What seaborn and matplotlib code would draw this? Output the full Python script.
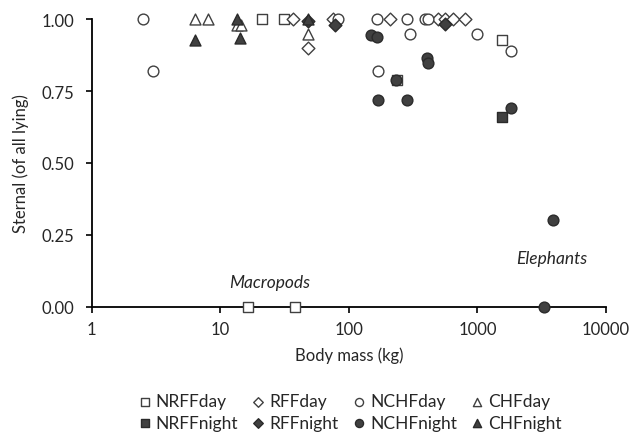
import matplotlib
matplotlib.use("Agg")
import matplotlib.pyplot as plt
import seaborn as sns
import pandas as pd

# ---- data (body mass kg, proportion sternal of all lying) ----
nrff_day_mass = [21, 31.6, 236, 1549, 16.6, 38.2]
nrff_day_sternal = [1.00, 1.00, 0.79, 0.93, 0.00, 0.00]

rff_day_mass = [37, 48.5, 75, 210, 497, 561, 644, 802]
rff_day_sternal = [1.00, 0.90, 1.00, 1.00, 1.00, 1.00, 1.00, 1.00]

nchf_day_mass = [2.5, 3.0, 82, 165, 283, 392, 416, 300, 990, 1830, 168]
nchf_day_sternal = [1.00, 0.82, 1.00, 1.00, 1.00, 1.00, 1.00, 0.95, 0.95, 0.89, 0.82]

chf_day_mass = [6.4, 8.1, 13.6, 14.6, 48.5]
chf_day_sternal = [1.00, 1.00, 0.98, 0.98, 0.95]

nrff_night_mass = [1549]
nrff_night_sternal = [0.66]

rff_night_mass = [48.5, 78, 561]
rff_night_sternal = [0.995, 0.98, 0.985]

nchf_night_mass = [148, 167, 404, 411, 232, 168, 283, 1830, 3855, 3300]
nchf_night_sternal = [0.945, 0.94, 0.865, 0.85, 0.79, 0.72, 0.72, 0.69, 0.30, 0.00]

chf_night_mass = [6.4, 13.5, 14.3, 48.5]
chf_night_sternal = [0.93, 1.00, 0.935, 1.00]

x_ticks = [1, 10, 100, 1000, 10000]
x_ticklabels = ["1", "10", "100", "1000", "10000"]
y_ticks = [0.0, 0.25, 0.5, 0.75, 1.0]
y_ticklabels = ["0.00", "0.25", "0.50", "0.75", "1.00"]

series = [
    ("NRFFday", nrff_day_mass, nrff_day_sternal, "s", False),
    ("RFFday", rff_day_mass, rff_day_sternal, "D", False),
    ("NCHFday", nchf_day_mass, nchf_day_sternal, "o", False),
    ("CHFday", chf_day_mass, chf_day_sternal, "^", False),
    ("NRFFnight", nrff_night_mass, nrff_night_sternal, "s", True),
    ("RFFnight", rff_night_mass, rff_night_sternal, "D", True),
    ("NCHFnight", nchf_night_mass, nchf_night_sternal, "o", True),
    ("CHFnight", chf_night_mass, chf_night_sternal, "^", True),
]

sns.set_theme(style="white")
plt.rcParams["font.family"] = ["Lato", "DejaVu Sans"]

fig = plt.figure(figsize=(6.33, 4.35), dpi=100)
ax = fig.add_axes([0.1446, 0.2931, 0.9573 - 0.1446, 0.9529 - 0.2931])

sizes = {"s": 55, "D": 42, "o": 60, "^": 62}
for name, xs, ys, mk, filled in series:
    df = pd.DataFrame({"mass": xs, "sternal": ys})
    if filled:
        fc, ec = "#404040", "#2a2a2a"
    else:
        fc, ec = "white", "#404040"
    sns.scatterplot(data=df, x="mass", y="sternal", marker=mk, s=sizes[mk],
                    color=fc, edgecolor=ec, linewidth=1.0, ax=ax,
                    label=name, clip_on=False, zorder=3)

txt = "#262626"
ax.set_xscale("log")
ax.set_xlim(1, 10000)
ax.set_ylim(0, 1)
ax.set_xticks(x_ticks)
ax.set_xticklabels(x_ticklabels)
ax.set_yticks(y_ticks)
ax.set_yticklabels(y_ticklabels)
ax.xaxis.set_minor_locator(matplotlib.ticker.NullLocator())
ax.tick_params(axis="both", which="major", direction="out", length=4.5,
               width=1.2, color="black", labelsize=12, labelcolor=txt,
               bottom=True, left=True)
ax.tick_params(axis="y", pad=8)
ax.tick_params(axis="x", pad=6)
for side in ["top", "right"]:
    ax.spines[side].set_visible(False)
for side in ["left", "bottom"]:
    ax.spines[side].set_color("black")
    ax.spines[side].set_linewidth(1.3)

ax.set_xlabel("Body mass (kg)", fontsize=12, color=txt, labelpad=7)
ax.set_ylabel("Sternal (of all lying)", fontsize=12, color=txt, labelpad=9)

ax.text(16.6 * 1.45, 0.085, "Macropods", style="italic", fontsize=12.5,
        ha="center", va="center", color=txt)
ax.text(3855 * 0.98, 0.17, "Elephants", style="italic", fontsize=12.5,
        ha="center", va="center", color=txt)

handles, labels = ax.get_legend_handles_labels()
hmap = dict(zip(labels, handles))
order = ["NRFFday", "NRFFnight", "RFFday", "RFFnight",
         "NCHFday", "NCHFnight", "CHFday", "CHFnight"]
leg = ax.legend([hmap[k] for k in order], order, ncol=4, loc="upper center",
                bbox_to_anchor=(0.5, -0.29), frameon=False, fontsize=12.5,
                handletextpad=0.15, columnspacing=0.65, labelspacing=0.32,
                markerscale=0.75, handlelength=1.0, borderaxespad=0.0,
                borderpad=0.2)
for t in leg.get_texts():
    t.set_color(txt)

fig.savefig("out.png", dpi=100)
